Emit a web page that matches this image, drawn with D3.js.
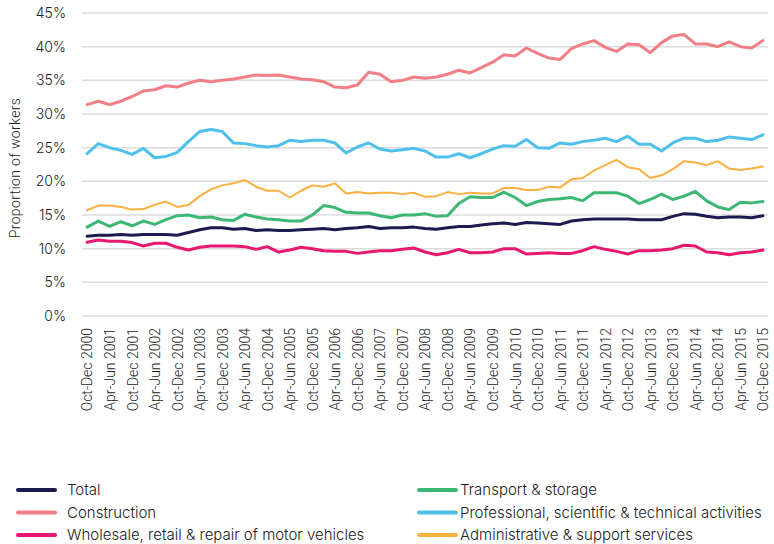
<!DOCTYPE html>
<html>
<head>
<meta charset="utf-8">
<script src="https://cdn.jsdelivr.net/npm/d3@7"></script>
<style>
  body { margin: 0; background: #fff; }
  text { font-family: Inter, Roboto, sans-serif; fill: #222; }
</style>
</head>
<body>
<div class="canvas"></div>
<script>
// quarters, Oct-Dec 2000 .. Oct-Dec 2015
const quarters = [
  "Oct-Dec 2000",
  "Jan-Mar 2001","Apr-Jun 2001","Jul-Sep 2001","Oct-Dec 2001",
  "Jan-Mar 2002","Apr-Jun 2002","Jul-Sep 2002","Oct-Dec 2002",
  "Jan-Mar 2003","Apr-Jun 2003","Jul-Sep 2003","Oct-Dec 2003",
  "Jan-Mar 2004","Apr-Jun 2004","Jul-Sep 2004","Oct-Dec 2004",
  "Jan-Mar 2005","Apr-Jun 2005","Jul-Sep 2005","Oct-Dec 2005",
  "Jan-Mar 2006","Apr-Jun 2006","Jul-Sep 2006","Oct-Dec 2006",
  "Jan-Mar 2007","Apr-Jun 2007","Jul-Sep 2007","Oct-Dec 2007",
  "Jan-Mar 2008","Apr-Jun 2008","Jul-Sep 2008","Oct-Dec 2008",
  "Jan-Mar 2009","Apr-Jun 2009","Jul-Sep 2009","Oct-Dec 2009",
  "Jan-Mar 2010","Apr-Jun 2010","Jul-Sep 2010","Oct-Dec 2010",
  "Jan-Mar 2011","Apr-Jun 2011","Jul-Sep 2011","Oct-Dec 2011",
  "Jan-Mar 2012","Apr-Jun 2012","Jul-Sep 2012","Oct-Dec 2012",
  "Jan-Mar 2013","Apr-Jun 2013","Jul-Sep 2013","Oct-Dec 2013",
  "Jan-Mar 2014","Apr-Jun 2014","Jul-Sep 2014","Oct-Dec 2014",
  "Jan-Mar 2015","Apr-Jun 2015","Jul-Sep 2015","Oct-Dec 2015"
];

// only every second quarter gets a label
const tickLabels = quarters.filter((q, i) => i % 2 === 0);

const yTicks = [0, 5, 10, 15, 20, 25, 30, 35, 40, 45];

// series values (% of workers)
const total = [11.85,12.0,12.0,12.1,12.0,12.1,12.1,12.1,12.0,12.4,12.8,13.1,13.1,12.9,13.0,12.7,12.8,12.7,12.7,12.8,12.9,
  13.0,12.8,13.0,13.1,13.3,13.0,13.1,13.1,13.2,13.0,12.9,13.1,13.3,13.3,13.5,13.7,13.8,13.6,13.9,13.8,
  13.7,13.6,14.1,14.3,14.4,14.4,14.4,14.4,14.3,14.3,14.3,14.8,15.2,15.1,14.8,14.6,14.7,14.7,14.6,14.9];

const construction = [31.4,31.9,31.4,31.9,32.6,33.4,33.6,34.2,34.0,34.6,35.0,34.8,35.0,35.2,35.5,35.8,35.7,35.8,35.5,35.2,35.1,
  34.8,34.0,33.9,34.3,36.2,35.9,34.8,35.0,35.5,35.3,35.5,35.9,36.5,36.1,36.9,37.7,38.8,38.6,39.8,39.0,
  38.3,38.1,39.7,40.4,40.9,39.9,39.3,40.4,40.3,39.1,40.6,41.6,41.8,40.4,40.4,40.0,40.7,40.0,39.8,40.9];

const wholesale = [10.96,11.3,11.1,11.1,10.9,10.4,10.8,10.8,10.2,9.8,10.2,10.4,10.4,10.4,10.3,9.9,10.3,9.5,9.8,10.2,10.0,
  9.7,9.6,9.6,9.3,9.5,9.7,9.7,9.9,10.1,9.5,9.1,9.4,9.9,9.4,9.4,9.5,10.0,10.0,9.2,9.3,
  9.4,9.3,9.3,9.7,10.3,9.9,9.6,9.2,9.7,9.7,9.8,10.0,10.5,10.4,9.5,9.4,9.1,9.4,9.5,9.8];

const transport = [13.2,14.1,13.3,14.0,13.4,14.1,13.6,14.3,14.9,15.0,14.6,14.7,14.3,14.2,15.1,14.7,14.4,14.3,14.1,14.1,15.0,
  16.4,16.1,15.4,15.3,15.3,14.9,14.6,15.0,15.0,15.2,14.8,14.9,16.7,17.7,17.6,17.6,18.4,17.6,16.4,17.0,
  17.3,17.4,17.6,17.1,18.3,18.3,18.3,17.8,16.7,17.3,18.1,17.3,17.8,18.5,17.1,16.2,15.8,16.9,16.8,17.0];

const professional = [24.1,25.6,25.0,24.6,24.0,24.9,23.5,23.7,24.3,25.9,27.4,27.7,27.4,25.7,25.6,25.3,25.1,25.3,26.1,25.9,26.1,
  26.1,25.7,24.2,25.1,25.7,24.8,24.5,24.7,24.9,24.5,23.6,23.6,24.1,23.5,24.1,24.8,25.3,25.2,26.2,25.0,
  24.9,25.7,25.5,25.9,26.1,26.4,25.9,26.7,25.5,25.5,24.5,25.7,26.4,26.4,25.9,26.1,26.6,26.4,26.2,26.9];

const admin = [15.7,16.4,16.4,16.2,15.8,15.9,16.5,17.0,16.2,16.5,17.8,18.8,19.4,19.7,20.2,19.2,18.6,18.6,17.6,18.6,19.4,
  19.2,19.7,18.2,18.4,18.2,18.3,18.3,18.1,18.3,17.7,17.8,18.4,18.1,18.3,18.2,18.2,19.0,19.0,18.7,18.7,
  19.2,19.1,20.3,20.5,21.6,22.4,23.2,22.1,21.8,20.5,20.9,21.8,23.0,22.8,22.4,23.0,21.9,21.7,21.9,22.2];

// series table (draw order: back to front)
const series = [
  { name: 'Administrative & support services', values: admin, color: '#fbb040', width: 2 },
  { name: 'Professional, scientific & technical activities', values: professional, color: '#4fc0ec', width: 3 },
  { name: 'Construction', values: construction, color: '#f27e86', width: 3 },
  { name: 'Transport & storage', values: transport, color: '#3cb874', width: 3 },
  { name: 'Wholesale, retail & repair of motor vehicles', values: wholesale, color: '#e8176f', width: 3 },
  { name: 'Total', values: total, color: '#1c1a4e', width: 3 }
];

// legend order (two columns)
const legendLeft = ['Total', 'Construction', 'Wholesale, retail & repair of motor vehicles'];
const legendRight = ['Transport & storage', 'Professional, scientific & technical activities', 'Administrative & support services'];

const width = 774, height = 544;
const margin = { top: 13, right: 6, bottom: 228, left: 82 };

const svg = d3.select('.canvas')
  .append('svg')
  .attr('width', width)
  .attr('height', height);

const x = d3.scalePoint()
  .domain(quarters)
  .range([margin.left, width - margin.right])
  .padding(0.45);

const y = d3.scaleLinear()
  .domain([0, 45])
  .range([height - margin.bottom, margin.top]);

// gridlines
svg.append('g')
  .selectAll('line')
  .data(yTicks)
  .enter()
  .append('line')
  .attr('x1', margin.left)
  .attr('x2', width - margin.right)
  .attr('y1', d => y(d))
  .attr('y2', d => y(d))
  .attr('stroke', '#dcdcdc')
  .attr('stroke-width', 1.5);

// y axis
const yAxis = d3.axisLeft(y)
  .tickValues(yTicks)
  .tickFormat(d => d + '%')
  .tickSize(0)
  .tickPadding(16);

const yAxisGroup = svg.append('g')
  .attr('transform', `translate(${margin.left},0)`)
  .call(yAxis);
yAxisGroup.select('.domain').remove();
yAxisGroup.selectAll('text')
  .attr('font-size', 14)
  .style('font-weight', 300)
  .style('font-family', 'Inter, sans-serif')
  .attr('fill', '#222');

// x axis
const xAxis = d3.axisBottom(x)
  .tickValues(tickLabels)
  .tickSize(0)
  .tickPadding(0);

const xAxisGroup = svg.append('g')
  .attr('transform', `translate(0,${height - margin.bottom})`)
  .call(xAxis);
xAxisGroup.select('.domain').remove();
xAxisGroup.selectAll('text')
  .attr('transform', 'translate(0,12) rotate(-90)')
  .attr('text-anchor', 'end')
  .attr('x', 0)
  .attr('y', 0)
  .attr('dy', '0.35em')
  .attr('font-size', 14)
  .style('font-weight', 300)
  .style('font-family', 'Roboto, sans-serif')
  .attr('fill', '#222');

// y title
svg.append('text')
  .attr('transform', 'translate(15,168) rotate(-90)')
  .attr('text-anchor', 'middle')
  .attr('dy', '0.35em')
  .attr('font-size', 14)
  .style('font-weight', 300)
  .style('font-family', 'Roboto, sans-serif')
  .attr('letter-spacing', 0.35)
  .text('Proportion of workers');

// lines
const line = d3.line()
  .x((d, i) => x(quarters[i]))
  .y(d => y(d));

svg.append('g')
  .selectAll('path')
  .data(series)
  .enter()
  .append('path')
  .attr('d', d => line(d.values))
  .attr('fill', 'none')
  .attr('stroke', d => d.color)
  .attr('stroke-width', d => d.width)
  .attr('stroke-linejoin', 'round')
  .attr('stroke-linecap', 'round');

// legend
const drawLegend = (names, x0, textX) => {
  const rows = svg.append('g')
    .selectAll('g')
    .data(names)
    .enter()
    .append('g')
    .attr('transform', (d, i) => `translate(0,${490 + i * 22.5})`);

  rows.append('line')
    .attr('x1', x0)
    .attr('x2', x0 + 37)
    .attr('stroke', d => series.find(s => s.name === d).color)
    .attr('stroke-width', 4)
    .attr('stroke-linecap', 'round');

  rows.append('text')
    .attr('x', textX)
    .attr('dy', '0.35em')
    .attr('font-size', 15)
    .style('font-weight', 300)
    .text(d => d);
};

drawLegend(legendLeft, 18, 67);
drawLegend(legendRight, 419, 460);
</script>
</body>
</html>
